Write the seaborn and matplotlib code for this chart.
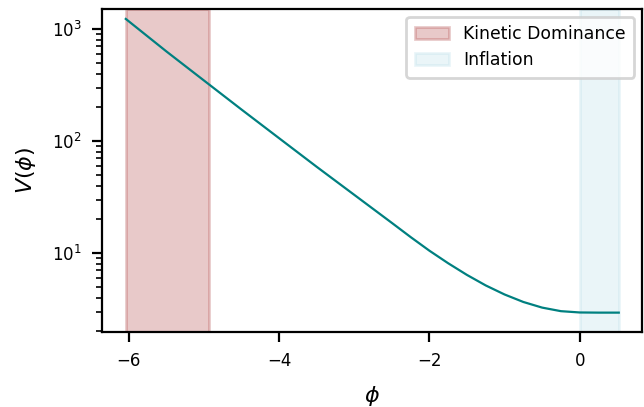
import numpy as np
import pandas as pd
import seaborn as sns
import matplotlib
matplotlib.use("Agg")
import matplotlib.pyplot as plt

# potential (log y axis)
phi = [-6.04, -5.5, -5.0, -4.5, -4.0, -3.5, -3.0, -2.5, -2.25, -2.0,
       -1.75, -1.5, -1.25, -1.0, -0.75, -0.5, -0.25, 0.0, 0.25, 0.52]
V = [1230, 631, 347, 191, 106, 58.9, 33.1, 18.6, 13.9, 10.5,
     8.11, 6.38, 5.14, 4.27, 3.66, 3.26, 3.03, 2.95, 2.94, 2.94]

kinetic_region = (-6.04, -4.93)
inflation_region = (0.0, 0.52)

df = pd.DataFrame({"phi": phi, "V": V})

plt.rcParams["font.family"] = ["DejaVu Sans"]

fig = plt.figure(figsize=(6.44, 4.07), dpi=100)
ax = fig.add_axes([0.158, 0.184, 0.839, 0.794])

ax.axvspan(*kinetic_region, color="brown", alpha=0.25, lw=2, label="Kinetic Dominance")
ax.axvspan(*inflation_region, color="lightblue", alpha=0.25, lw=2, label="Inflation")
sns.lineplot(data=df, x="phi", y="V", color="teal", lw=1.6, ax=ax)

ax.set_yscale("log")
ax.set_xlim(-6.36, 0.83)
ax.set_ylim(1.97, 1510)
ax.set_xticks([-6, -4, -2, 0])

ax.set_xlabel(r"$\phi$", fontsize=16, labelpad=10)
ax.set_ylabel(r"$V(\phi)$", fontsize=16, labelpad=10)

for s in ax.spines.values():
    s.set_linewidth(1.6)
ax.tick_params(which="major", length=7.2, width=1.6, pad=7, labelsize=12)
ax.tick_params(which="minor", length=4.2, width=1.2)

leg = ax.legend(loc="upper right", fontsize=12.4, borderpad=0.5,
                labelspacing=0.45, borderaxespad=0.45)
leg.get_frame().set_linewidth(2)

fig.savefig("out.png", dpi=100)
